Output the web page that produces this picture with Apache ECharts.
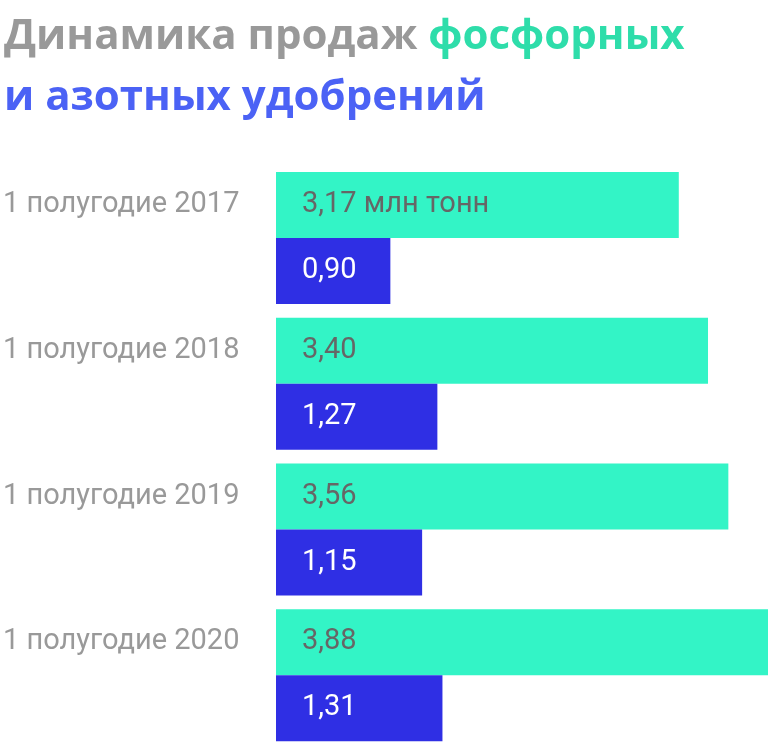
<!DOCTYPE html>
<html>
<head>
<meta charset="utf-8">
<script src="https://cdn.jsdelivr.net/npm/echarts@6/dist/echarts.min.js"></script>
<style>
  html, body { margin: 0; padding: 0; background: #fff; }
  #chart { width: 768px; height: 742px; }
</style>
</head>
<body>
<div id="chart"></div>
<script>
const periods = ["1 полугодие 2017", "1 полугодие 2018", "1 полугодие 2019", "1 полугодие 2020"];
const phosphate = [3.17, 3.40, 3.56, 3.88];
const nitrogen = [0.90, 1.27, 1.15, 1.31];

const palette = {
  gray: "#999999",
  titleGreen: "#2EDDAA",
  titleBlue: "#4B62F5",
  barGreen: "#33F4C6",
  barBlue: "#2F2FE4",
};

const TITLE_FONT = "Open Sans";
const FONT = "Roboto";
const fmt = (v) => v.toFixed(2).replace(".", ",");

const chart = echarts.init(document.getElementById("chart"), null, { renderer: "canvas" });

// общий стиль для частей заголовка
const titlePart = (color) => ({
  color,
  fontSize: 42,
  fontWeight: "bold",
  fontFamily: TITLE_FONT,
  lineHeight: 61,
});

chart.setOption({
  animation: false,
  backgroundColor: "#fff",
  textStyle: { fontFamily: FONT },

  title: {
    left: -1,
    top: 2,
    text: "{g|Динамика продаж }{t|фосфорных}\n{b|и азотных удобрений}",
    textStyle: {
      rich: {
        g: titlePart(palette.gray),
        t: titlePart(palette.titleGreen),
        b: titlePart(palette.titleBlue),
      },
    },
  },

  grid: {
    left: 276,
    right: -1,
    top: 165,
    height: 583,
    outerBoundsMode: "none",
  },

  xAxis: {
    type: "value",
    min: 0,
    max: 3.88,
    show: false,
  },

  yAxis: {
    type: "category",
    inverse: true,
    data: periods,
    axisLine: { show: false },
    axisTick: { show: false },
    splitLine: { show: false },
    axisLabel: {
      align: "left",
      margin: 273,
      color: palette.gray,
      fontSize: 29,
      fontFamily: FONT,
      verticalAlign: "bottom",
      lineHeight: 66,
    },
  },

  series: [
    {
      name: "Фосфорные",
      type: "bar",
      data: phosphate,
      barWidth: 66,
      barGap: 0,
      itemStyle: { color: palette.barGreen },
      label: {
        show: true,
        position: "insideLeft",
        distance: 26,
        color: "#666666",
        fontSize: 29,
        fontFamily: FONT,
        formatter: (p) => fmt(p.value) + (p.dataIndex === 0 ? " млн тонн" : ""),
      },
    },
    {
      name: "Азотные",
      type: "bar",
      data: nitrogen,
      barWidth: 66,
      barGap: 0,
      itemStyle: { color: palette.barBlue },
      label: {
        show: true,
        position: "insideLeft",
        distance: 26,
        color: "#ffffff",
        fontSize: 29,
        fontFamily: FONT,
        formatter: (p) => fmt(p.value),
      },
    },
  ],
});
</script>
</body>
</html>
